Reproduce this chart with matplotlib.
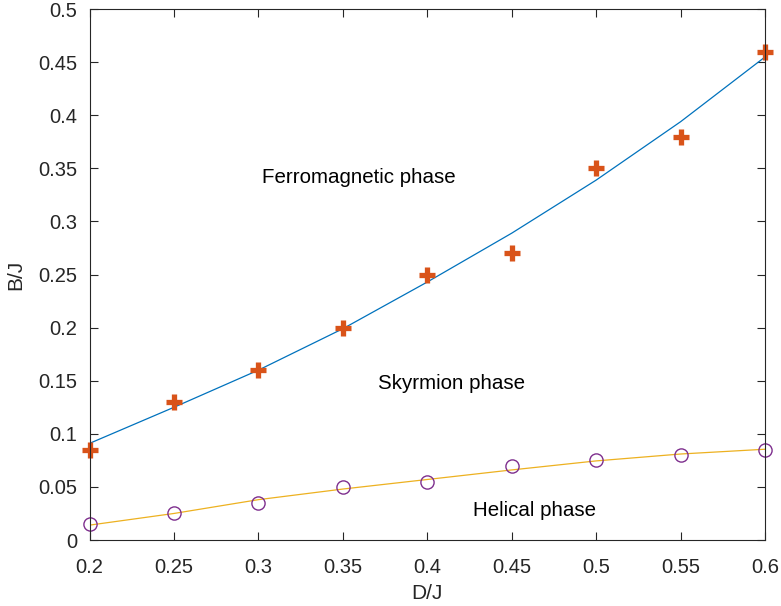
import matplotlib.pyplot as plt

plt.rcParams['font.family'] = ['Liberation Sans', 'DejaVu Sans']

# data
d = [0.2, 0.25, 0.3, 0.35, 0.4, 0.45, 0.5, 0.55, 0.6]
b_upper = [0.085, 0.13, 0.16, 0.2, 0.25, 0.27, 0.35, 0.38, 0.46]
b_upper_fit = [0.091, 0.125, 0.160, 0.199, 0.243, 0.289, 0.339, 0.394, 0.455]
b_lower = [0.015, 0.025, 0.035, 0.05, 0.055, 0.07, 0.075, 0.08, 0.085]
b_lower_fit = [0.014, 0.025, 0.038, 0.048, 0.057, 0.066, 0.0745, 0.081, 0.0855]

xticks = [0.2, 0.25, 0.3, 0.35, 0.4, 0.45, 0.5, 0.55, 0.6]
yticks = [0, 0.05, 0.1, 0.15, 0.2, 0.25, 0.3, 0.35, 0.4, 0.45, 0.5]

fig = plt.figure(figsize=(7.81, 6.06), dpi=100)
ax = fig.add_axes([0.1146, 0.1089, 0.865, 0.876])

ax.plot(d, b_upper_fit, color='#0072BD', lw=0.9)
ax.plot(d, b_upper, ls='none', marker='+', ms=11, mew=3.8, color='#D95319', clip_on=False)
ax.plot(d, b_lower_fit, color='#EDB120', lw=0.9)
ax.plot(d, b_lower, ls='none', marker='o', ms=9.5, mew=1.0, mfc='none', mec='#7E2F8E',
        clip_on=False)

ax.text(0.302, 0.341, 'Ferromagnetic phase', fontsize=14.8, va='center', color='black')
ax.text(0.371, 0.147, 'Skyrmion phase', fontsize=14.8, va='center', color='black')
ax.text(0.427, 0.028, 'Helical phase', fontsize=14.8, va='center', color='black')

ax.set_xlim(0.2, 0.6)
ax.set_ylim(0, 0.5)
ax.set_xticks(xticks)
ax.set_xticklabels([('%g' % v) for v in xticks])
ax.set_yticks(yticks)
ax.set_yticklabels([('%g' % v) for v in yticks])
ax.tick_params(direction='in', top=True, right=True, length=6, width=0.8,
               colors='#262626', labelsize=14.5)
ax.tick_params(axis='x', pad=13)
ax.tick_params(axis='y', pad=9)
for s in ax.spines.values():
    s.set_color('#262626')
    s.set_linewidth(0.8)

ax.set_xlabel('D/J', fontsize=15, color='#262626', labelpad=5)
ax.set_ylabel('B/J', fontsize=15, color='#262626', labelpad=9)

fig.savefig('out.png', dpi=100)
